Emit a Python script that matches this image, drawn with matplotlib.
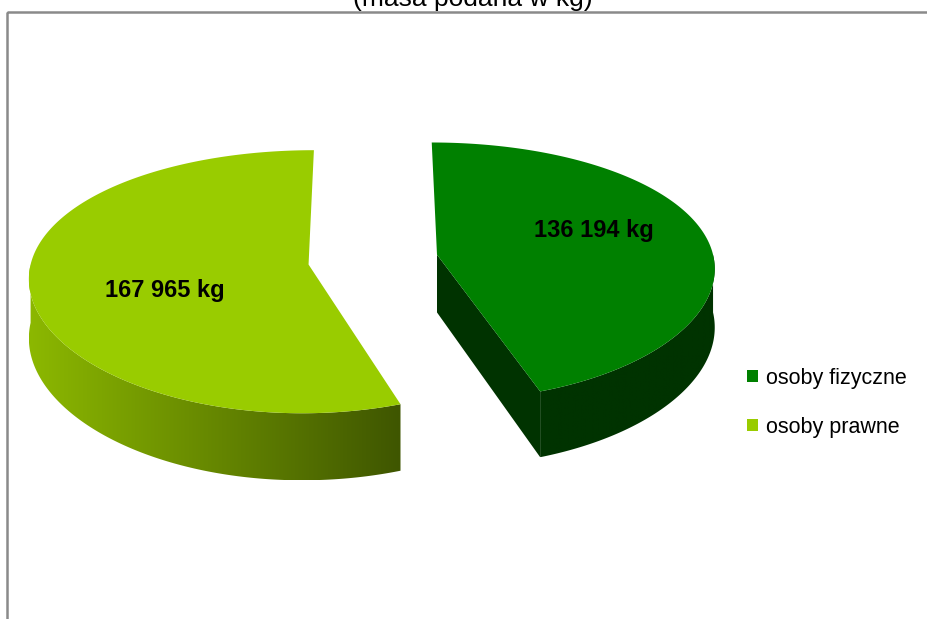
import numpy as np
import matplotlib.pyplot as plt
from matplotlib.patches import Polygon, Rectangle, Patch
from matplotlib.colors import LinearSegmentedColormap

# data
labels = ['osoby fizyczne', 'osoby prawne']
values = [136194, 167965]
top_colors = ['#008000', '#99cc00']
side_colors = [('#003300', '#003300'), ('#8cb800', '#3f5600')]
title = '(masa podana w kg)'

plt.rcParams['font.family'] = ['Liberation Sans', 'DejaVu Sans']

W, H = 928, 619
fig = plt.figure(figsize=(W / 100, H / 100), dpi=100)
ax = fig.add_axes([0, 0, 1, 1])
ax.axis('off')

# fake 3d pie, everything in pixel space (y pointing down)
CX, CY = 373, 259.6
A, B = 277, 128
KX, KY = 0.09, 0.13
D = 58
EXPLODE = 0.235


def proj(u, v, bottom=False):
    x = CX + A * u / (1 + KX * v)
    y = CY - B * v / (1 + KY * v)
    if bottom:
        y = y + D / (1 + KY * v)
    return x, y


total = sum(values)
edges = np.concatenate([[0], np.cumsum(values) / total * 360])

for i in range(len(values)):
    a0, a1 = edges[i], edges[i + 1]
    mid = np.radians((a0 + a1) / 2)
    du, dv = EXPLODE * np.sin(mid), EXPLODE * np.cos(mid)
    t = np.radians(np.linspace(a0, a1, 300))
    u = du + np.sin(t)
    v = dv + np.cos(t)
    xt, yt = proj(u, v)
    cx_t, cy_t = proj(du, dv)
    cx_b, cy_b = proj(du, dv, bottom=True)

    # radial cut faces that look towards the viewer
    for ang, sgn in ((a0, -1), (a1, 1)):
        r = np.radians(ang)
        nv = -sgn * np.sin(r)
        if nv < -0.01:
            px_t, py_t = proj(du + np.sin(r), dv + np.cos(r))
            px_b, py_b = proj(du + np.sin(r), dv + np.cos(r), bottom=True)
            ax.add_patch(Polygon([(cx_t, cy_t), (px_t, py_t), (px_b, py_b), (cx_b, cy_b)],
                                 closed=True, facecolor=side_colors[i][0], lw=0, zorder=2))

    # outer wall, only the front half can be seen
    w0, w1 = max(a0, 90), min(a1, 270)
    tw = np.radians(np.linspace(w0, w1, 300))
    uw, vw = du + np.sin(tw), dv + np.cos(tw)
    xw, yw = proj(uw, vw)
    xb, yb = proj(uw, vw, bottom=True)
    wall = Polygon(np.column_stack([np.r_[xw, xb[::-1]], np.r_[yw, yb[::-1]]]),
                   closed=True, facecolor='none', edgecolor='none')
    ax.add_patch(wall)
    cmap = LinearSegmentedColormap.from_list('side%d' % i, side_colors[i])
    grad = np.linspace(0, 1, 256).reshape(1, -1)
    im = ax.imshow(grad, cmap=cmap, aspect='auto', zorder=3,
                   extent=[xw.min(), xw.max(), yb.max(), yw.min()])
    im.set_clip_path(wall)

    # top face
    ax.add_patch(Polygon(np.column_stack([np.r_[cx_t, xt], np.r_[cy_t, yt]]),
                         closed=True, facecolor=top_colors[i], lw=0, zorder=4))

# data labels
label_pos = [(594, 230), (165, 291)]
for val, (lx, ly) in zip(values, label_pos):
    txt = f'{val:,}'.replace(',', ' ') + ' kg'
    ax.text(lx, ly, txt, ha='center', va='center', fontsize=17,
            fontweight='bold', color='black', zorder=5)

# title (cut off at the top like the original) and frame
ax.text(473, 6, title, ha='center', va='baseline', fontsize=19, color='black')
ax.add_patch(Rectangle((7, 12), W, H, fill=False, edgecolor='#8a8a8a', lw=1.8, zorder=0))

handles = [Patch(facecolor=c, edgecolor='none') for c in top_colors]
ax.legend(handles, labels, loc='upper left', bbox_to_anchor=(747 / W, 1 - 368 / H),
          frameon=False, fontsize=15.5, handlelength=0.5, handleheight=0.5,
          handletextpad=0.4, labelspacing=1.3, borderaxespad=0, borderpad=0)

ax.set_xlim(0, W)
ax.set_ylim(H, 0)

fig.savefig('out.png', dpi=100)
